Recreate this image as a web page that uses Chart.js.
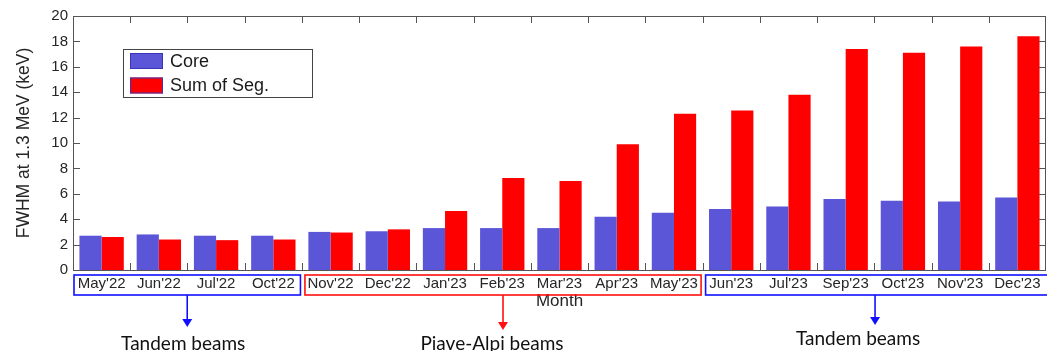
<!DOCTYPE html>
<html>
<head>
<meta charset="utf-8">
<script src="https://cdn.jsdelivr.net/npm/chart.js@4"></script>
<style>
  html, body { margin: 0; padding: 0; background: #fff; }
  #wrap { width: 1047px; height: 351px; position: relative; }
</style>
</head>
<body>
<div id="wrap"><canvas id="fwhmChart"></canvas></div>
<script>
// datos
const meses = ["May'22", "Jun'22", "Jul'22", "Oct'22", "Nov'22", "Dec'22", "Jan'23", "Feb'23", "Mar'23",
               "Apr'23", "May'23", "Jun'23", "Jul'23", "Sep'23", "Oct'23", "Nov'23", "Dec'23"];
const core      = [2.7, 2.8, 2.7, 2.7, 3.0, 3.05, 3.3, 3.3, 3.3, 4.2, 4.5, 4.8, 5.0, 5.6, 5.45, 5.4, 5.7];
const sumOfSeg  = [2.6, 2.4, 2.35, 2.4, 2.95, 3.2, 4.65, 7.25, 7.0, 9.9, 12.3, 12.55, 13.8, 17.4, 17.1, 17.6, 18.4];
const yTicks    = [0, 2, 4, 6, 8, 10, 12, 14, 16, 18, 20];

// grupos de haces (indices de meses)
const grupos = [
  { desde: 0,  hasta: 3,  texto: 'Tandem beams',     color: '#1010ff', dx: -4,  tipY: 327, baseY: 350 },
  { desde: 4,  hasta: 10, texto: 'Piave-Alpi beams', color: '#ff1010', dx: -11, tipY: 330, baseY: 350 },
  { desde: 11, hasta: 16, texto: 'Tandem beams',     color: '#1010ff', dx: -17, tipY: 325, baseY: 345 }
];

const colorCore = '#5b55d8';
const colorSeg  = '#ff0000';
const colorEje  = '#555555';
const fuente    = 'Liberation Sans, Arial, sans-serif';

const marcoPlugin = {
  id: 'marco',
  afterDraw(chart) {
    const ctx = chart.ctx;
    const area = chart.chartArea;
    const y = chart.scales.y;
    const ancho = (area.right - area.left) / meses.length;
    const borde = i => area.left + i * ancho;

    ctx.save();
    // marco
    ctx.strokeStyle = colorEje;
    ctx.lineWidth = 1;
    ctx.strokeRect(area.left + 0.5, area.top + 0.5, area.right - area.left - 1, area.bottom - area.top);

    // ticks hacia adentro
    ctx.beginPath();
    yTicks.forEach(v => {
      const py = Math.round(y.getPixelForValue(v)) + 0.5;
      ctx.moveTo(area.left, py); ctx.lineTo(area.left + 7, py);
      ctx.moveTo(area.right, py); ctx.lineTo(area.right - 7, py);
    });
    for (let i = 1; i < meses.length; i++) {
      const px = Math.round(borde(i)) + 0.5;
      ctx.moveTo(px, area.top); ctx.lineTo(px, area.top + 7);
      ctx.moveTo(px, area.bottom); ctx.lineTo(px, area.bottom - 7);
    }
    ctx.stroke();

    // leyenda
    const lx = 123, ly = 49;
    ctx.fillStyle = '#fff';
    ctx.fillRect(lx, ly, 189, 48);
    ctx.strokeStyle = '#444';
    ctx.strokeRect(lx + 0.5, ly + 0.5, 189, 48);
    chart.data.datasets.forEach((ds, i) => {
      const sy = ly + 4 + i * 24.5;
      ctx.fillStyle = ds.backgroundColor;
      ctx.fillRect(lx + 7, sy, 33, 16);
      ctx.strokeStyle = '#3a34b8';
      ctx.strokeRect(lx + 7.5, sy + 0.5, 32, 15);
      ctx.fillStyle = '#1a1a1a';
      ctx.font = '18px ' + fuente;
      ctx.textBaseline = 'middle';
      ctx.textAlign = 'left';
      ctx.fillText(ds.label, lx + 47, sy + 9);
    });

    // cajas de grupos, flechas y textos
    grupos.forEach(g => {
      const x0 = borde(g.desde) + (g.desde === 0 ? 1 : 3);
      const x1Real = borde(g.hasta + 1) - 1.5;
      const x1 = g.hasta === meses.length - 1 ? chart.width + 5 : x1Real;
      const centro = (x0 + x1Real) / 2;
      const top = area.bottom + 5, bot = area.bottom + 25;
      ctx.strokeStyle = g.color;
      ctx.lineWidth = 1.6;
      ctx.strokeRect(x0, top, x1 - x0, bot - top);

      ctx.beginPath();
      ctx.moveTo(centro, bot);
      ctx.lineTo(centro, g.tipY - 7);
      ctx.stroke();
      ctx.fillStyle = g.color;
      ctx.beginPath();
      ctx.moveTo(centro - 5, g.tipY - 8);
      ctx.lineTo(centro + 5, g.tipY - 8);
      ctx.lineTo(centro, g.tipY);
      ctx.closePath();
      ctx.fill();

      ctx.fillStyle = '#111';
      ctx.font = '19px Lato, "Open Sans", sans-serif';
      ctx.textAlign = 'center';
      ctx.textBaseline = 'alphabetic';
      ctx.fillText(g.texto, centro + g.dx, g.baseY);
    });
    ctx.restore();
  }
};

const ctx = document.getElementById('fwhmChart').getContext('2d');
const grafica = new Chart(ctx, {
  type: 'bar',
  data: {
    labels: meses,
    datasets: [
      { label: 'Core',        data: core,     backgroundColor: colorCore, borderWidth: 0 },
      { label: 'Sum of Seg.', data: sumOfSeg, backgroundColor: colorSeg,  borderWidth: 0 }
    ]
  },
  options: {
    responsive: true,
    maintainAspectRatio: false,
    animation: false,
    layout: { padding: { top: 16, right: 1, left: 0, bottom: 0 } },
    datasets: { bar: { categoryPercentage: 0.775, barPercentage: 1.0 } },
    plugins: {
      legend: { display: false },
      tooltip: { enabled: false }
    },
    scales: {
      x: {
        grid: { display: false, drawTicks: false },
        border: { display: false },
        ticks: { color: '#262626', font: { family: fuente, size: 15 }, padding: 5, maxRotation: 0, autoSkip: false },
        title: { display: true, text: 'Month', color: '#262626', font: { family: fuente, size: 17 }, padding: { bottom: 39 } },
        afterFit: s => { s.height = 81; }
      },
      y: {
        min: 0,
        max: 20,
        afterBuildTicks: s => { s.ticks = yTicks.map(v => ({ value: v })); },
        grid: { display: false, drawTicks: false },
        border: { display: false },
        ticks: { color: '#262626', font: { family: fuente, size: 15 }, padding: 5 },
        title: { display: true, text: 'FWHM at 1.3 MeV (keV)', color: '#262626', font: { family: fuente, size: 17.5 }, padding: { top: 14 } },
        afterFit: s => { s.width = 73; }
      }
    }
  },
  plugins: [marcoPlugin]
});
</script>
</body>
</html>
